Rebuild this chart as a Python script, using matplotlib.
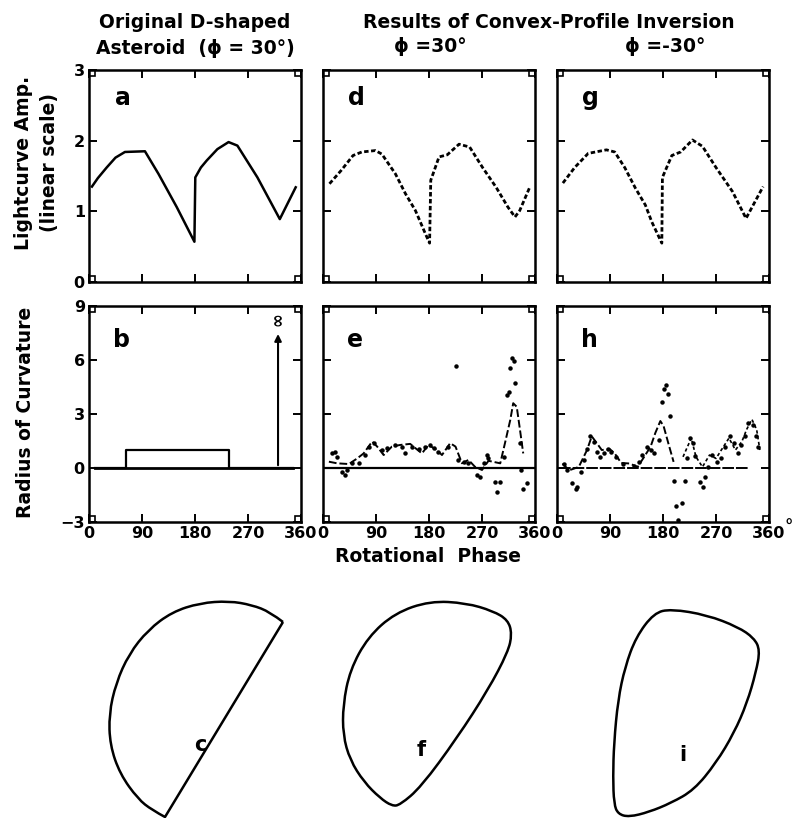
import matplotlib.pyplot as plt
import numpy as np
from matplotlib.path import Path
from matplotlib.patches import PathPatch

# lightcurves (phase in deg, amplitude)
phase_a = [5, 15, 30, 45, 61, 95, 118, 149, 179, 180.5, 190, 200, 218, 237, 252, 286, 324, 351]
amp_a = [1.35, 1.47, 1.62, 1.76, 1.84, 1.85, 1.53, 1.06, 0.57, 1.48, 1.62, 1.72, 1.88, 1.98, 1.93, 1.48, 0.89, 1.34]

phase_d = [11, 31, 51, 66, 89, 100, 123, 140, 157, 174, 181, 183, 189, 197, 211, 231, 249, 271, 294, 314, 326, 334, 351]
amp_d = [1.39, 1.58, 1.79, 1.84, 1.86, 1.81, 1.53, 1.25, 1.01, 0.68, 0.55, 1.44, 1.58, 1.77, 1.80, 1.95, 1.91, 1.62, 1.34, 1.06, 0.92, 1.01, 1.34]

phase_g = [10, 30, 53, 84, 98, 115, 133, 150, 161, 178, 179, 195, 210, 230, 247, 270, 298, 321, 350]
amp_g = [1.40, 1.62, 1.82, 1.87, 1.84, 1.62, 1.33, 1.09, 0.85, 0.55, 1.48, 1.79, 1.84, 2.01, 1.92, 1.62, 1.28, 0.90, 1.35]

# radius of curvature, original D shape
phase_b = [10, 62, 62, 238, 238, 346]
rc_b = [0, 0, 1, 1, 0, 0]
phase_inf = 321

# radius of curvature, inversion phi=30
phase_e_fit = [10, 24, 44, 58, 69, 83.5, 92, 103, 117, 131, 148, 157, 168, 179, 193.5, 202, 216, 225, 236, 247, 258, 270,
               281, 301, 309, 318, 323, 329, 334.6, 340]
rc_e_fit = [0.35, 0.26, 0.22, 0.53, 0.81, 1.47, 1.19, 0.72, 1.19, 1.28, 1.34, 1.10, 0.81, 1.28, 1.00, 0.72, 1.38, 1.19, 0.26,
            0.45, 0.07, -0.11, 0.40, 0.26, 1.38, 2.67, 3.60, 3.40, 2.10, 0.81]
phase_e_obs = [14.7, 21, 24, 32.7, 38, 41, 50, 61, 72, 78, 86, 100, 109, 123, 134, 140, 151, 163, 174, 182, 188, 196, 213,
               225, 230, 239, 247, 261, 267, 273, 278, 281, 292, 295, 301, 307, 312, 315, 318, 321, 324, 326, 334, 337, 340, 346]
rc_e_obs = [0.85, 0.90, 0.63, -0.20, -0.40, -0.10, 0.26, 0.26, 0.72, 1.19, 1.38, 1.00, 1.10, 1.28, 1.19, 0.81, 1.19, 1.04,
            1.19, 1.28, 1.10, 0.91, 1.19, 5.65, 0.45, 0.35, 0.26, -0.40, -0.50, 0.26, 0.72, 0.54, -0.80, -1.35, -0.80, 0.63,
            4.07, 4.20, 5.56, 6.10, 5.93, 4.70, 1.38, -0.10, -1.14, -0.86]

# radius of curvature, inversion phi=-30
phase_h_fit = [9.4, 20.5, 37, 51, 59, 67.6, 76, 90, 98, 109, 123, 137, 148, 159, 167, 175.5, 181, 189, 198]
rc_h_fit = [0.25, -0.13, 0.06, 1.00, 1.76, 1.38, 1.00, 1.04, 0.81, 0.28, 0.25, 0.06, 0.62, 1.19, 1.95, 2.61, 2.33, 1.38, 0.34]
phase_h_fit2 = [214, 228, 236, 247, 259, 270, 281, 292, 303, 314, 322, 331, 339, 344.5]
rc_h_fit2 = [0.62, 1.66, 0.62, 0.06, 0.72, 0.53, 1.10, 1.66, 1.00, 1.47, 2.14, 2.70, 2.14, 1.00]
phase_h_obs = [12, 17.7, 26, 31.6, 34, 40, 45, 51, 56.5, 62, 67.6, 73, 79, 87, 92.5, 101, 112, 131, 139.6, 145, 153, 159,
               164.5, 173, 178, 181, 185, 188, 192, 199, 202, 206, 211.5, 217, 220, 225, 231, 235, 242, 247.5, 252, 256,
               264, 272, 278, 286, 294.6, 300, 308, 313, 319.5, 325, 333, 338, 341.6]
rc_h_obs = [0.25, -0.13, -0.85, -1.17, -1.08, -0.23, 0.43, 1.04, 1.76, 1.47, 0.91, 0.62, 0.81, 1.04, 0.91, 0.62, 0.25, 0.09,
            0.34, 0.72, 1.19, 1.00, 0.81, 1.57, 3.65, 4.40, 4.60, 4.10, 2.90, -0.70, -2.10, -2.90, -1.93, -0.74, 0.53, 1.66,
            1.38, 0.68, -0.79, -1.08, -0.51, 0.06, 0.72, 0.34, 0.53, 1.19, 1.76, 1.38, 0.81, 1.28, 1.76, 2.50, 2.40, 1.76, 1.19]
h_zero = [4, 325]

# asteroid outlines (pixel positions on the page), control points of smooth outlines
# c: curved side from top-right corner to bottom corner, closed by a straight edge
c_x = [283, 270, 252, 229, 200, 172, 148, 129, 116, 109, 110, 120, 138, 152, 165]
c_y = [622, 612, 605, 601, 603, 612, 630, 654, 683, 714, 745, 774, 799, 810, 817]
f_x = [395, 430, 466, 493, 508, 512, 508, 488, 457, 421, 400, 392, 380, 364, 350, 343, 343, 350, 368]
f_y = [613, 601, 603, 611, 620, 634, 652, 690, 738, 787, 805, 806, 798, 782, 760, 735, 705, 670, 637]
i_x = [654, 671, 707, 738, 754, 760, 756, 747, 734, 716, 694, 671, 649, 629, 618, 614, 613, 614, 618, 625, 636]
i_y = [613, 609, 615, 627, 638, 650, 672, 703, 733, 763, 790, 803, 812, 817, 814, 804, 777, 743, 700, 667, 637]

W, H = 796, 818
plt.rcParams['font.family'] = 'DejaVu Sans'
plt.rcParams['font.weight'] = 'bold'
fig = plt.figure(figsize=(W / 100, H / 100), dpi=100)


def px_axes(x0, y0, w, h):
    return fig.add_axes([x0 / W, 1 - (y0 + h) / H, w / W, h / H])


def spline_path(xs, ys, closed):
    # quadratic B-spline through the control points
    p = np.column_stack([xs, ys]).astype(float)
    n = len(p)
    if closed:
        verts = [(p[-1] + p[0]) / 2]
        codes = [Path.MOVETO]
        for k in range(n):
            verts += [p[k], (p[k] + p[(k + 1) % n]) / 2]
            codes += [Path.CURVE3, Path.CURVE3]
    else:
        verts = [p[0]]
        codes = [Path.MOVETO]
        for k in range(1, n - 1):
            end = p[k + 1] if k == n - 2 else (p[k] + p[k + 1]) / 2
            verts += [p[k], end]
            codes += [Path.CURVE3, Path.CURVE3]
        verts.append(p[0])
        codes.append(Path.LINETO)
    return Path(verts, codes)


lefts = [89, 323, 557]
axs_top = [px_axes(x, 70, 212, 212) for x in lefts]
axs_bot = [px_axes(x, 306, 212, 216) for x in lefts]

for ax in axs_top + axs_bot:
    ax.set_xlim(0, 360)
    ax.set_xticks([0, 90, 180, 270, 360])
    for s in ax.spines.values():
        s.set_linewidth(1.8)
    ax.tick_params(direction='in', top=True, right=True, length=6, width=1.4, labelsize=11.5, pad=3)
    ax.plot([0.012, 0.988, 0.012, 0.988], [0.012, 0.012, 0.988, 0.988], 's', mfc='none', mec='k',
            ms=4, mew=1.2, transform=ax.transAxes, clip_on=False)

for k, ax in enumerate(axs_top):
    ax.set_ylim(0, 3)
    ax.set_yticks([0, 1, 2, 3])
    ax.set_xticklabels([])
    if k > 0:
        ax.set_yticklabels([])
for k, ax in enumerate(axs_bot):
    ax.set_ylim(-3, 9)
    ax.set_yticks([-3, 0, 3, 6, 9])
    if k > 0:
        ax.set_yticklabels([])

# top row lightcurves
axs_top[0].plot(phase_a, amp_a, color='k', lw=1.8, solid_joinstyle='round')
axs_top[1].plot(phase_d, amp_d, color='k', lw=2.0, ls=(0, (1.6, 0.9)))
axs_top[2].plot(phase_g, amp_g, color='k', lw=2.0, ls=(0, (1.6, 0.9)))

# b: original curvature
ab = axs_bot[0]
ab.plot(phase_b, rc_b, color='k', lw=1.6)
ab.plot([phase_b[0], phase_b[-1]], [0, 0], color='k', lw=2.0)
ab.annotate('', xy=(phase_inf, 7.6), xytext=(phase_inf, 0),
            arrowprops=dict(arrowstyle='-|>', lw=1.5, color='k', mutation_scale=10))
ab.text(phase_inf, 8.25, '\u221e', rotation=90, ha='center', va='center', fontsize=12)

# e
ae = axs_bot[1]
ae.plot([0, 360], [0, 0], color='k', lw=1.6)
ae.plot(phase_e_fit, rc_e_fit, color='k', lw=1.4, ls=(0, (4, 1.5)))
ae.plot(phase_e_obs, rc_e_obs, 'o', color='k', ms=2.2)

# h
ah = axs_bot[2]
ah.plot(h_zero, [0, 0], color='k', lw=1.4, ls=(0, (6, 1)))
ah.plot(phase_h_fit, rc_h_fit, color='k', lw=1.4, ls=(0, (4, 1.5)))
ah.plot(phase_h_fit2, rc_h_fit2, color='k', lw=1.2, ls=(0, (2, 1.5)))
ah.plot(phase_h_obs, rc_h_obs, 'o', color='k', ms=2.2)

# panel letters
for ax, lab in zip(axs_top, ['a', 'd', 'g']):
    ax.text(57, 2.6, lab, ha='center', va='center', fontsize=17)
for ax, lab in zip(axs_bot, ['b', 'e', 'h']):
    ax.text(55, 7.1, lab, ha='center', va='center', fontsize=17)

# page annotations and shapes
page = fig.add_axes([0, 0, 1, 1], zorder=-1)
page.set_xlim(0, W)
page.set_ylim(H, 0)
page.axis('off')
for xs, ys, closed, lab, lx, ly in [(c_x, c_y, False, 'c', 200, 745), (f_x, f_y, True, 'f', 421, 750),
                                    (i_x, i_y, True, 'i', 683, 755)]:
    page.add_patch(PathPatch(spline_path(xs, ys, closed), facecolor='none', edgecolor='k', lw=1.8,
                             joinstyle='round'))
    page.text(lx, ly, lab, ha='center', va='center', fontsize=15)

tfs = 13.5
page.text(195, 22, 'Original D-shaped', ha='center', va='center', fontsize=tfs)
page.text(195, 48, 'Asteroid  (\u03d5 = 30\u00b0)', ha='center', va='center', fontsize=tfs)
page.text(549, 22, 'Results of Convex-Profile Inversion', ha='center', va='center', fontsize=tfs)
page.text(430, 47, '\u03d5 =30\u00b0', ha='center', va='center', fontsize=tfs)
page.text(665, 47, '\u03d5 =-30\u00b0', ha='center', va='center', fontsize=tfs)
page.text(428, 557, 'Rotational  Phase', ha='center', va='center', fontsize=tfs)
page.text(789, 528, '\u00b0', ha='center', va='center', fontsize=12)
page.text(24, 163, 'Lightcurve Amp.', ha='center', va='center', rotation=90, fontsize=tfs)
page.text(50, 163, '(linear scale)', ha='center', va='center', rotation=90, fontsize=tfs)
page.text(26, 412, 'Radius of Curvature', ha='center', va='center', rotation=90, fontsize=tfs)

fig.savefig('out.png', dpi=100)
